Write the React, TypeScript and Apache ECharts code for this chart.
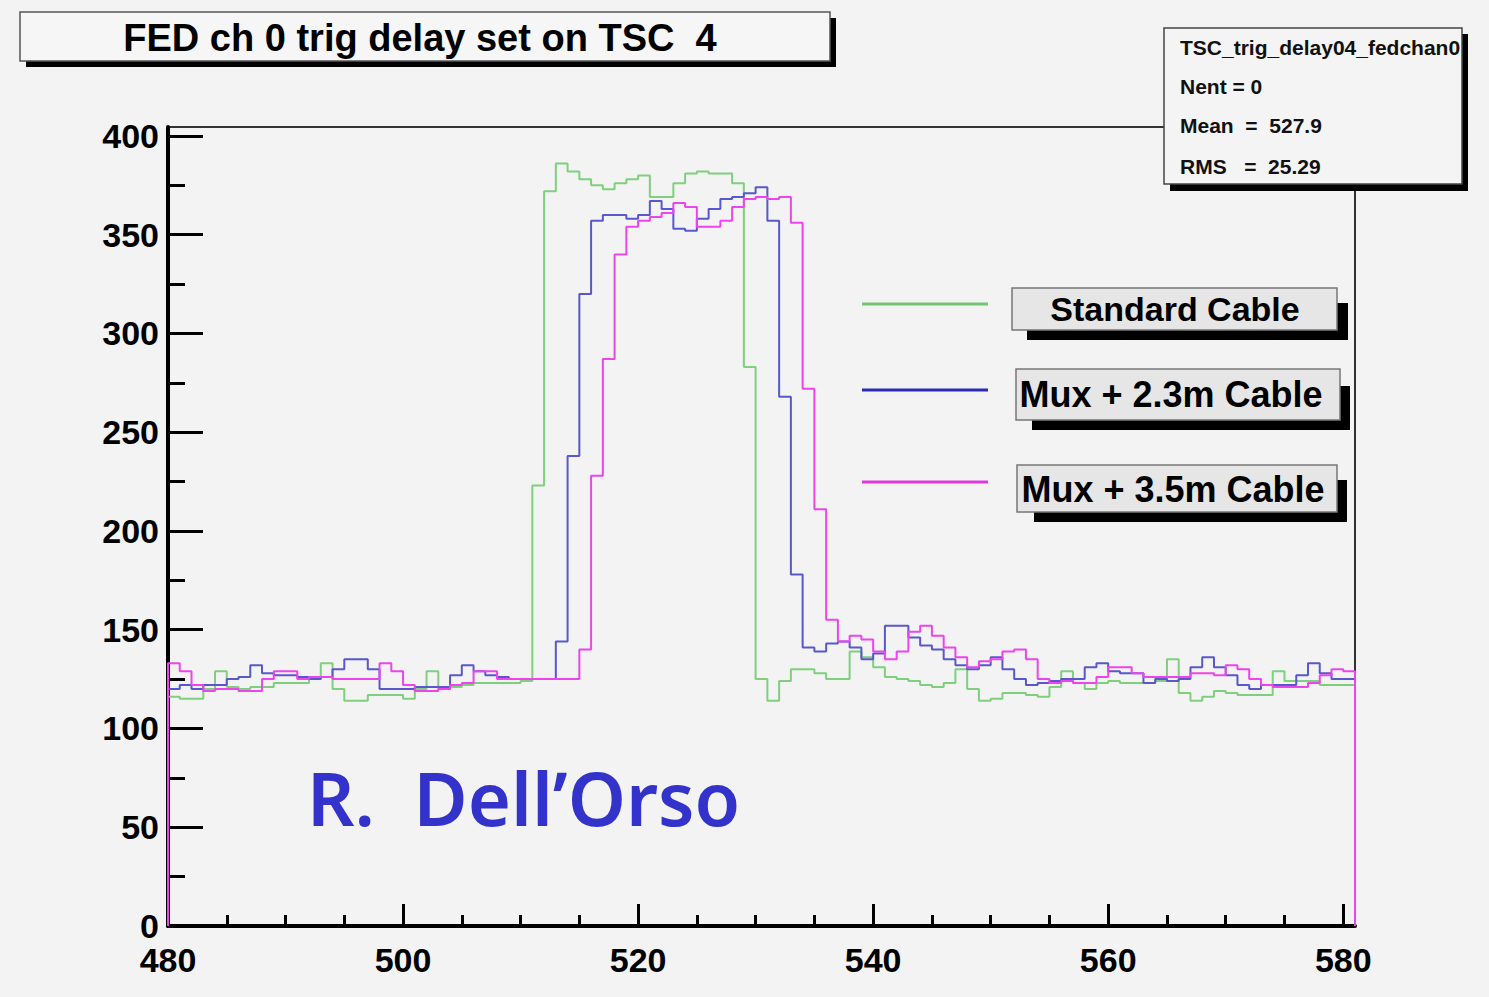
import React, { useEffect, useRef } from "react";
import * as echarts from "echarts";

// Histogram bins: left edges 480..580, width 1
const binStart = 480;
const binEnd = 581;

const standardCable = [
  116, 115, 115, 120, 129, 121, 120, 121, 121, 123,
  123, 123, 125, 133, 120, 114, 114, 117, 117, 117,
  115, 120, 129, 120, 121, 122, 123, 123, 123, 123,
  124, 223, 372, 386, 382, 378, 375, 373, 376, 378,
  380, 369, 369, 376, 381, 382, 381, 381, 376, 283,
  125, 114, 124, 130, 130, 128, 125, 125, 139, 136,
  131, 126, 125, 124, 122, 121, 123, 130, 120, 114,
  115, 118, 118, 117, 116, 121, 129, 123, 120, 123,
  124, 123, 123, 123, 124, 135, 118, 114, 116, 119,
  118, 117, 117, 117, 129, 124, 124, 124, 122, 122,
  122,
];

const mux23Cable = [
  120, 122, 120, 122, 122, 125, 126, 132, 128, 127,
  127, 126, 125, 126, 130, 135, 135, 130, 120, 120,
  120, 121, 121, 121, 127, 132, 129, 127, 126, 125,
  125, 125, 125, 144, 238, 320, 357, 360, 360, 358,
  360, 367, 363, 353, 352, 358, 363, 368, 369, 371,
  374, 357, 268, 178, 141, 139, 143, 144, 141, 135,
  138, 152, 152, 146, 142, 140, 135, 132, 130, 132,
  136, 130, 125, 122, 123, 124, 125, 125, 131, 133,
  129, 128, 128, 123, 125, 124, 125, 131, 136, 131,
  127, 122, 120, 122, 122, 122, 127, 133, 128, 125,
  125,
];

const mux35Cable = [
  133, 129, 122, 119, 120, 120, 119, 119, 125, 129,
  129, 125, 126, 126, 125, 125, 125, 125, 133, 129,
  122, 119, 119, 120, 122, 123, 129, 129, 125, 125,
  125, 125, 125, 125, 125, 140, 228, 287, 340, 354,
  357, 359, 361, 366, 364, 354, 354, 357, 364, 368,
  369, 368, 369, 356, 272, 211, 155, 144, 147, 145,
  139, 135, 139, 149, 152, 147, 141, 136, 131, 134,
  135, 139, 140, 135, 125, 123, 124, 123, 123, 126,
  131, 131, 128, 126, 126, 126, 126, 128, 128, 127,
  132, 130, 125, 122, 121, 121, 121, 123, 127, 130,
  129,
];

const seriesNames = ["Standard Cable", "Mux + 2.3m Cable", "Mux + 3.5m Cable"];
const xMajorTicks = [480, 500, 520, 540, 560, 580];
const xMinorTicks = [485, 490, 495, 505, 510, 515, 525, 530, 535, 545, 550, 555, 565, 570, 575];
const yMajorTicks = [0, 50, 100, 150, 200, 250, 300, 350, 400];
const yMinorTicks = [25, 75, 125, 175, 225, 275, 325, 375];

const titleText = "FED ch 0 trig delay set on TSC  4";
const statsLines = ["TSC_trig_delay04_fedchan0", "Nent = 0", "Mean  =  527.9", "RMS   =  25.29"];
const authorText = "R.  Dell\u2019Orso";

const FONT = "'Liberation Sans', Arial, Helvetica, sans-serif";

function toSteps(vals: number[]): number[][] {
  const pts: number[][] = [[binStart, 0]];
  vals.forEach((v, i) => pts.push([binStart + i, v]));
  pts.push([binEnd, vals[vals.length - 1]]);
  pts.push([binEnd, 0]);
  return pts;
}

export default function App() {
  const ref = useRef<HTMLDivElement>(null);
  useEffect(() => {
    if (!ref.current) return;
    const chart = echarts.init(ref.current, null, { renderer: "svg" });
    const colors = ["#7fcf7f", "#5858cc", "#ee44ee"];
    const legendColors = ["#74c474", "#2a2ab4", "#e038e0"];
    const valuesList = [standardCable, mux23Cable, mux35Cable];

    const legendY = [304, 390, 482];
    const boxes = [
      { x: 1012, y: 288, w: 325, h: 42, sx: 1027, sy: 303, sw: 321, sh: 37, tx: 1175, ty: 309, fs: 34 },
      { x: 1016, y: 369, w: 324, h: 51, sx: 1032, sy: 386, sw: 318, sh: 44, tx: 1171, ty: 394, fs: 36 },
      { x: 1017, y: 465, w: 320, h: 47, sx: 1034, sy: 480, sw: 313, sh: 42, tx: 1173, ty: 489, fs: 36 },
    ];

    const graphics: any[] = [];
    // title box
    graphics.push({ type: "rect", z: 10, shape: { x: 26, y: 18, width: 810, height: 49 }, style: { fill: "#000" } });
    graphics.push({ type: "rect", z: 11, shape: { x: 20, y: 12, width: 810, height: 49 }, style: { fill: "#f6f6f6", stroke: "#555", lineWidth: 1.5 } });
    graphics.push({ type: "text", z: 12, x: 420, y: 38, style: { text: titleText, fill: "#000", font: `bold 38px ${FONT}`, textAlign: "center", textVerticalAlign: "middle" } });
    // stats box
    graphics.push({ type: "rect", z: 10, shape: { x: 1170, y: 34, width: 298, height: 157 }, style: { fill: "#000" } });
    graphics.push({ type: "rect", z: 11, shape: { x: 1164, y: 28, width: 298, height: 156 }, style: { fill: "#f4f4f4", stroke: "#444", lineWidth: 1.5 } });
    const statsY = [47, 86, 125, 166];
    statsLines.forEach((t, i) => {
      graphics.push({ type: "text", z: 12, x: 1180, y: statsY[i], style: { text: t, fill: "#111", font: `bold 21px ${FONT}`, textAlign: "left", textVerticalAlign: "middle" } });
    });
    // legend
    seriesNames.forEach((name, i) => {
      graphics.push({ type: "line", z: 10, shape: { x1: 862, y1: legendY[i], x2: 988, y2: legendY[i] }, style: { stroke: legendColors[i], lineWidth: 3 } });
      const b = boxes[i];
      graphics.push({ type: "rect", z: 10, shape: { x: b.sx, y: b.sy, width: b.sw, height: b.sh }, style: { fill: "#000" } });
      graphics.push({ type: "rect", z: 11, shape: { x: b.x, y: b.y, width: b.w, height: b.h }, style: { fill: "#e6e6e6", stroke: "#777", lineWidth: 1.5 } });
      graphics.push({ type: "text", z: 12, x: b.tx, y: b.ty, style: { text: name, fill: "#000", font: `bold ${b.fs}px ${FONT}`, textAlign: "center", textVerticalAlign: "middle" } });
    });
    // author
    graphics.push({ type: "text", z: 12, x: 307, y: 797, style: { text: authorText, fill: "#3333cc", font: `600 74px 'Noto Sans', 'DejaVu Sans', sans-serif`, textAlign: "left", textVerticalAlign: "middle" } });

    const axisFont = { fontSize: 34, fontWeight: "bold" as const, fontFamily: FONT, color: "#000" };

    chart.setOption({
      animation: false,
      backgroundColor: "#f3f3f3",
      grid: {
        left: 168, top: 127, width: 1187, height: 799,
        show: true, borderColor: "#333", borderWidth: 2, backgroundColor: "transparent",
      },
      xAxis: [
        {
          type: "value", min: binStart, max: binEnd, position: "bottom",
          axisLine: { show: true, onZero: false, lineStyle: { color: "#000", width: 4 } },
          axisTick: { show: true, inside: true, length: 22, lineStyle: { color: "#000", width: 3 }, customValues: xMajorTicks },
          axisLabel: { show: true, margin: 21, lineHeight: 26, customValues: xMajorTicks, ...axisFont },
          splitLine: { show: false },
        },
        {
          type: "value", min: binStart, max: binEnd, position: "bottom",
          axisLine: { show: false, onZero: false },
          axisTick: { show: true, inside: true, length: 11, lineStyle: { color: "#000", width: 3 }, customValues: xMinorTicks },
          axisLabel: { show: false },
          splitLine: { show: false },
        },
      ],
      yAxis: [
        {
          type: "value", min: 0, max: 404.5, position: "left",
          axisLine: { show: true, onZero: false, lineStyle: { color: "#000", width: 4 } },
          axisTick: { show: true, inside: true, length: 35, lineStyle: { color: "#000", width: 3 }, customValues: yMajorTicks },
          axisLabel: { show: true, margin: 9, lineHeight: 26, customValues: yMajorTicks, ...axisFont },
          splitLine: { show: false },
        },
        {
          type: "value", min: 0, max: 404.5, position: "left",
          axisLine: { show: false, onZero: false },
          axisTick: { show: true, inside: true, length: 17, lineStyle: { color: "#000", width: 3 }, customValues: yMinorTicks },
          axisLabel: { show: false },
          splitLine: { show: false },
        },
      ],
      series: valuesList.map((vals, i) => ({
        name: seriesNames[i],
        type: "line",
        step: "end",
        xAxisIndex: 0,
        yAxisIndex: 0,
        data: toSteps(vals),
        showSymbol: false,
        symbol: "none",
        clip: false,
        lineStyle: { color: colors[i], width: 2 },
        z: 3 + i,
      })),
      graphic: graphics,
    });
    return () => chart.dispose();
  }, []);
  return (
    <div
      ref={ref}
      style={{ position: "absolute", left: 0, top: 0, width: 1489, height: 997, background: "#f3f3f3" }}
    />
  );
}
